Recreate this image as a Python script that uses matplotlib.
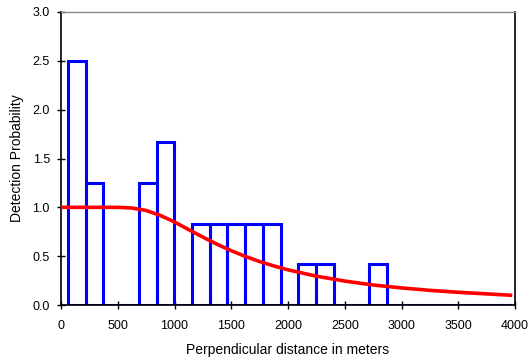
import numpy as np
import matplotlib.pyplot as plt

plt.rcParams['font.family'] = ['Liberation Sans', 'DejaVu Sans']

# histogram bins (meters) and scaled heights
bin_start = 62
bin_width = 156
heights = [2.5, 1.25, 0, 0, 1.25, 1.667, 0, 0.833, 0.833, 0.833, 0.833, 0.833,
           0, 0.417, 0.417, 0, 0, 0.417, 0, 0, 0, 0, 0, 0, 0]

# fitted detection curve
curve_x = [0, 250, 500, 625, 750, 875, 1000, 1125, 1250, 1375, 1500, 1625, 1750,
           1875, 2000, 2250, 2500, 2750, 3000, 3250, 3500, 3750, 3960]
curve_y = [1.0, 1.0, 1.0, 0.993, 0.968, 0.917, 0.85, 0.772, 0.695, 0.622, 0.556,
           0.497, 0.445, 0.40, 0.36, 0.295, 0.245, 0.205, 0.175, 0.150, 0.130,
           0.114, 0.10]

fig = plt.figure(figsize=(5.31, 3.6), dpi=100)
ax = fig.add_axes([61/531, 1-305/360, (515-61)/531, (305-12)/360])

lefts = bin_start + bin_width*np.arange(len(heights))
ax.bar(lefts, heights, width=bin_width, align='edge', fill=False,
       edgecolor='#0000ff', linewidth=2.2, zorder=2)
ax.plot(curve_x, curve_y, color='#ff0000', linewidth=2.6, zorder=3)

ax.set_xlim(0, 4000)
ax.set_ylim(0, 3.0)
ax.set_xticks(np.arange(0, 4001, 500))
ax.set_yticks(np.arange(0, 3.01, 0.5))
ax.set_yticklabels(['%.1f' % v for v in np.arange(0, 3.01, 0.5)])
ax.tick_params(direction='inout', length=6, width=1, labelsize=9, pad=5)
ax.tick_params(axis='x', pad=8)

for s in ['left', 'bottom', 'right']:
    ax.spines[s].set_color('black')
    ax.spines[s].set_linewidth(1.2)
ax.spines['top'].set_color('#888888')
ax.spines['top'].set_linewidth(1.0)

ax.set_xlabel('Perpendicular distance in meters', fontsize=10, labelpad=8)
ax.set_ylabel('Detection Probability', fontsize=10, labelpad=6)

fig.savefig('out.png', dpi=100)
